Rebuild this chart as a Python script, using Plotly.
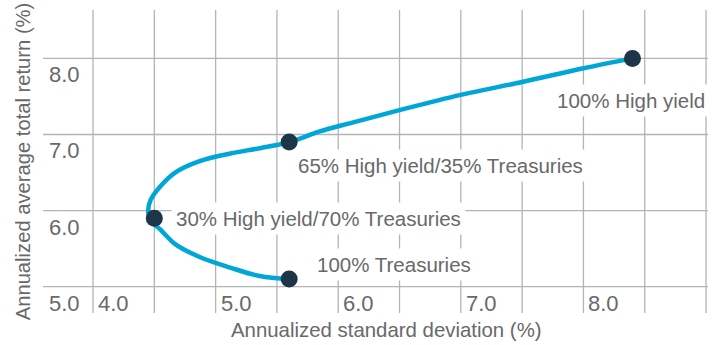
import plotly.graph_objects as go

# Efficient-frontier curve (std dev %, return %)
curve_sd = [5.60, 5.36, 5.12, 4.87, 4.67, 4.55, 4.47, 4.45, 4.47, 4.55, 4.67, 4.87,
            5.12, 5.36, 5.60, 5.85, 6.10, 6.50, 7.00, 7.50, 8.00, 8.40]
curve_ret = [5.10, 5.14, 5.25, 5.39, 5.56, 5.75, 5.87, 5.99, 6.14, 6.32, 6.50, 6.65,
             6.75, 6.82, 6.90, 7.04, 7.15, 7.32, 7.52, 7.69, 7.87, 8.00]

# Portfolios
port_names = ["100% High yield", "65% High yield/35% Treasuries",
              "30% High yield/70% Treasuries", "100% Treasuries"]
port_sd = [8.4, 5.6, 4.5, 5.6]
port_ret = [8.0, 6.9, 5.9, 5.1]

x_ticks = [4.0, 5.0, 6.0, 7.0, 8.0]
x_grid = [4.0, 4.5, 5.0, 5.5, 6.0, 6.5, 7.0, 7.5, 8.0, 8.5, 9.0]
y_ticks = [5.0, 6.0, 7.0, 8.0]

FONT = "Liberation Sans, Arial, sans-serif"
TXT = "#68696b"
GRID = "#b4b4b4"

fig = go.Figure()
fig.add_trace(go.Scatter(x=curve_sd, y=curve_ret, mode="lines",
                         line=dict(color="#00a6d8", width=4.5, shape="spline", smoothing=1.0),
                         hoverinfo="skip", showlegend=False))
fig.add_trace(go.Scatter(x=port_sd, y=port_ret, mode="markers",
                         marker=dict(color="#1d3548", size=17, line=dict(width=0)),
                         showlegend=False, text=port_names))

shapes = []
for gx in x_grid:
    shapes.append(dict(type="line", xref="x", yref="paper", x0=gx, x1=gx, y0=0, y1=1,
                       line=dict(color=GRID, width=1.3), layer="below"))
for gy in y_ticks:
    shapes.append(dict(type="line", xref="paper", yref="y", x0=0, x1=1, y0=gy, y1=gy,
                       line=dict(color=GRID, width=1.3), layer="below"))

ann = []
# portfolio labels with white boxes
label_pos = [
    dict(xanchor="center", xshift=-1, yshift=-42),
    dict(xanchor="left", xshift=4, yshift=-23),
    dict(xanchor="left", xshift=17, yshift=0),
    dict(xanchor="left", xshift=23, yshift=15),
]
for name, sx, ry, p in zip(port_names, port_sd, port_ret, label_pos):
    ann.append(dict(x=sx, y=ry, xref="x", yref="y", text=name, showarrow=False,
                    yanchor="middle", bgcolor="white", borderpad=4,
                    font=dict(family=FONT, size=20.5, color=TXT), **p))
# x tick labels
for t in x_ticks:
    ann.append(dict(x=t, y=y_ticks[0], xref="x", yref="y", text=f"{t:.1f}", showarrow=False,
                    xanchor="left", yanchor="middle", xshift=3, yshift=-17,
                    font=dict(family=FONT, size=22, color=TXT)))
# y tick labels
for t in y_ticks:
    ann.append(dict(x=0, y=t, xref="paper", yref="y", text=f"{t:.1f}", showarrow=False,
                    xanchor="left", yanchor="middle", xshift=4, yshift=-16.5,
                    font=dict(family=FONT, size=22, color=TXT)))
# x axis title
ann.append(dict(x=0.516, y=-0.056, xref="paper", yref="paper",
                text="Annualized standard deviation (%)", showarrow=False,
                xanchor="center", yanchor="middle",
                font=dict(family=FONT, size=20.4, color=TXT)))

y_title = "Annualized average total return (%)"

fig.update_layout(
    width=722, height=345,
    margin=dict(l=43, r=14, t=10, b=32),
    paper_bgcolor="white", plot_bgcolor="white",
    xaxis=dict(range=[3.592, 9.016], showgrid=False, zeroline=False, showline=False,
               showticklabels=False, ticks=""),
    yaxis=dict(range=[4.654, 8.636], showgrid=False, zeroline=False, showline=False,
               showticklabels=False, ticks="",
               title=dict(text=y_title, standoff=5,
                          font=dict(family=FONT, size=20.2, color=TXT))),
    shapes=shapes, annotations=ann, showlegend=False,
)

fig.write_html("out.html")
